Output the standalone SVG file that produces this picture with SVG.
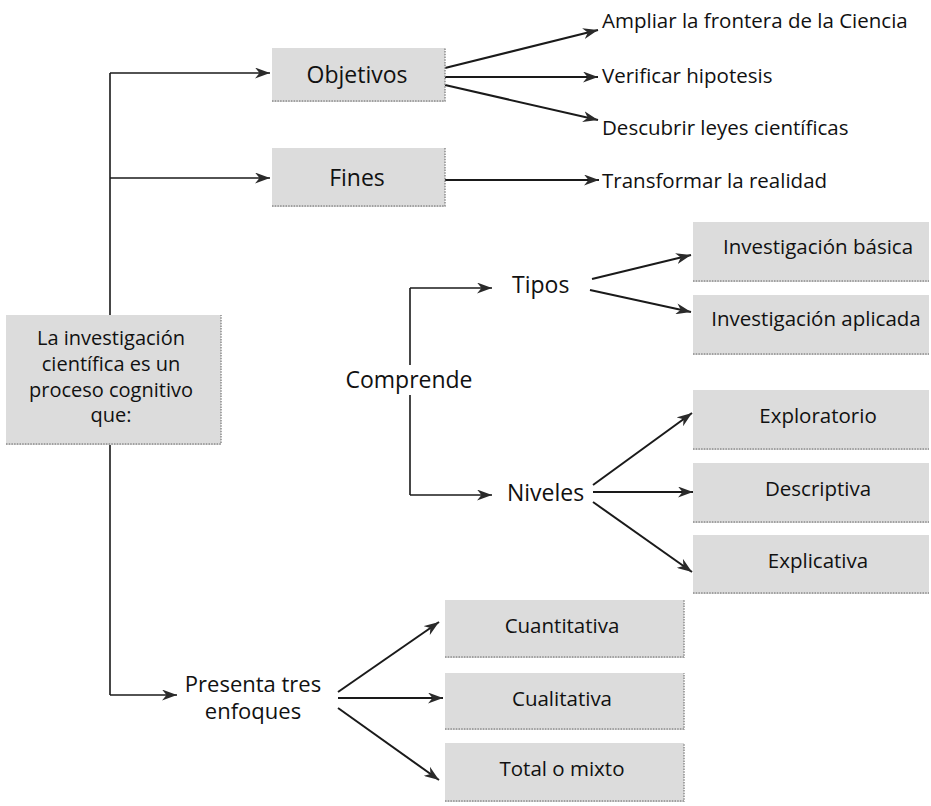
<svg xmlns="http://www.w3.org/2000/svg" width="931" height="806" viewBox="0 0 931 806">
<style>
.box{fill:#dcdcdc}
.edge{stroke:#8c8c8c;stroke-width:1.5;stroke-dasharray:1.5 1.2;fill:none}
.t{font-family:"Open Sans","Noto Sans","Liberation Sans",sans-serif;font-weight:500;fill:#111}
.c{text-anchor:middle}
.ln{stroke:#1a1a1a;stroke-width:2;fill:none}
.tr{stroke:#1a1a1a;stroke-width:1.6;fill:none}
</style>
<defs>
<marker id="ah" markerUnits="userSpaceOnUse" markerWidth="16" markerHeight="11" refX="15" refY="5.5" orient="auto">
<path d="M0,0 L15,5.5 L0,11 L4.5,5.5 Z" fill="#2a2a2a"/>
</marker>
</defs>
<rect width="931" height="806" fill="#ffffff"/>
<g id="connectors">
<path class="tr" d="M110,73 V315 M110,445 V695"/>
<path class="tr" d="M110,73 H270" marker-end="url(#ah)"/>
<path class="tr" d="M110,178 H270" marker-end="url(#ah)"/>
<path class="tr" d="M110,695 H177" marker-end="url(#ah)"/>
<path class="ln" d="M445,68 L598,30" marker-end="url(#ah)"/>
<path class="ln" d="M445,77 L598,77" marker-end="url(#ah)"/>
<path class="ln" d="M445,85 L598,120" marker-end="url(#ah)"/>
<path class="ln" d="M445,180 L599,180" marker-end="url(#ah)"/>
<path class="tr" d="M410,288 V365 M410,395 V495"/>
<path class="tr" d="M410,288 H492" marker-end="url(#ah)"/>
<path class="tr" d="M410,495 H492" marker-end="url(#ah)"/>
<path class="ln" d="M592,279 L691,255" marker-end="url(#ah)"/>
<path class="ln" d="M590,290 L691,312" marker-end="url(#ah)"/>
<path class="ln" d="M593,485 L692,413" marker-end="url(#ah)"/>
<path class="ln" d="M593,492 L693,492" marker-end="url(#ah)"/>
<path class="ln" d="M593,502 L692,572" marker-end="url(#ah)"/>
<path class="ln" d="M338,692 L439,622" marker-end="url(#ah)"/>
<path class="ln" d="M338,698 L443,698" marker-end="url(#ah)"/>
<path class="ln" d="M338,708 L439,780" marker-end="url(#ah)"/>
</g>
<g id="root">
<rect class="box" x="6" y="315" width="215" height="130"/>
<path class="edge" d="M6,444 H221 V315"/>
<text class="t c" x="111" y="345" font-size="20">La investigación</text>
<text class="t c" x="111" y="371" font-size="20">científica es un</text>
<text class="t c" x="111" y="397" font-size="20">proceso cognitivo</text>
<text class="t c" x="111" y="422" font-size="20">que:</text>
</g>
<g id="objetivos">
<rect class="box" x="272" y="48" width="173" height="54"/>
<path class="edge" d="M272,101 H445 V48"/>
<text class="t c" x="357" y="83" font-size="23">Objetivos</text>
</g>
<g id="fines">
<rect class="box" x="272" y="148" width="173" height="59"/>
<path class="edge" d="M272,206 H445 V148"/>
<text class="t c" x="357" y="186" font-size="23">Fines</text>
</g>
<g id="ampliar"><text class="t" x="602" y="28" font-size="20.5">Ampliar la frontera de la Ciencia</text></g>
<g id="verificar"><text class="t" x="602" y="83" font-size="20.5">Verificar hipotesis</text></g>
<g id="descubrir"><text class="t" x="602" y="135" font-size="20.5">Descubrir leyes científicas</text></g>
<g id="transformar"><text class="t" x="602" y="188" font-size="20.5">Transformar la realidad</text></g>
<g id="comprende"><text class="t c" x="409" y="388" font-size="23">Comprende</text></g>
<g id="tipos"><text class="t" x="512" y="293" font-size="23">Tipos</text></g>
<g id="niveles"><text class="t" x="507" y="501" font-size="23">Niveles</text></g>
<g id="basica">
<rect class="box" x="693" y="222" width="236" height="60"/>
<path class="edge" d="M693,281 H929"/>
<text class="t c" x="818" y="254" font-size="20.5">Investigación básica</text>
</g>
<g id="aplicada">
<rect class="box" x="693" y="295" width="236" height="60"/>
<path class="edge" d="M693,354 H929"/>
<text class="t c" x="816" y="326" font-size="20.5">Investigación aplicada</text>
</g>
<g id="exploratorio">
<rect class="box" x="693" y="390" width="236" height="60"/>
<path class="edge" d="M693,449 H929"/>
<text class="t c" x="818" y="423" font-size="20.5">Exploratorio</text>
</g>
<g id="descriptiva">
<rect class="box" x="693" y="463" width="236" height="60"/>
<path class="edge" d="M693,522 H929"/>
<text class="t c" x="818" y="496" font-size="20.5">Descriptiva</text>
</g>
<g id="explicativa">
<rect class="box" x="693" y="535" width="236" height="59"/>
<path class="edge" d="M693,593 H929"/>
<text class="t c" x="818" y="568" font-size="20.5">Explicativa</text>
</g>
<g id="presenta">
<text class="t c" x="253" y="692" font-size="22">Presenta tres</text>
<text class="t c" x="253" y="719" font-size="22">enfoques</text>
</g>
<g id="cuantitativa">
<rect class="box" x="445" y="600" width="239" height="58"/>
<path class="edge" d="M445,657 H684 V600"/>
<text class="t c" x="562" y="633" font-size="20.5">Cuantitativa</text>
</g>
<g id="cualitativa">
<rect class="box" x="445" y="673" width="239" height="57"/>
<path class="edge" d="M445,729 H684 V673"/>
<text class="t c" x="562" y="706" font-size="20.5">Cualitativa</text>
</g>
<g id="total">
<rect class="box" x="445" y="743" width="239" height="59"/>
<path class="edge" d="M445,801 H684 V743"/>
<text class="t c" x="562" y="776" font-size="20.5">Total o mixto</text>
</g>
</svg>
